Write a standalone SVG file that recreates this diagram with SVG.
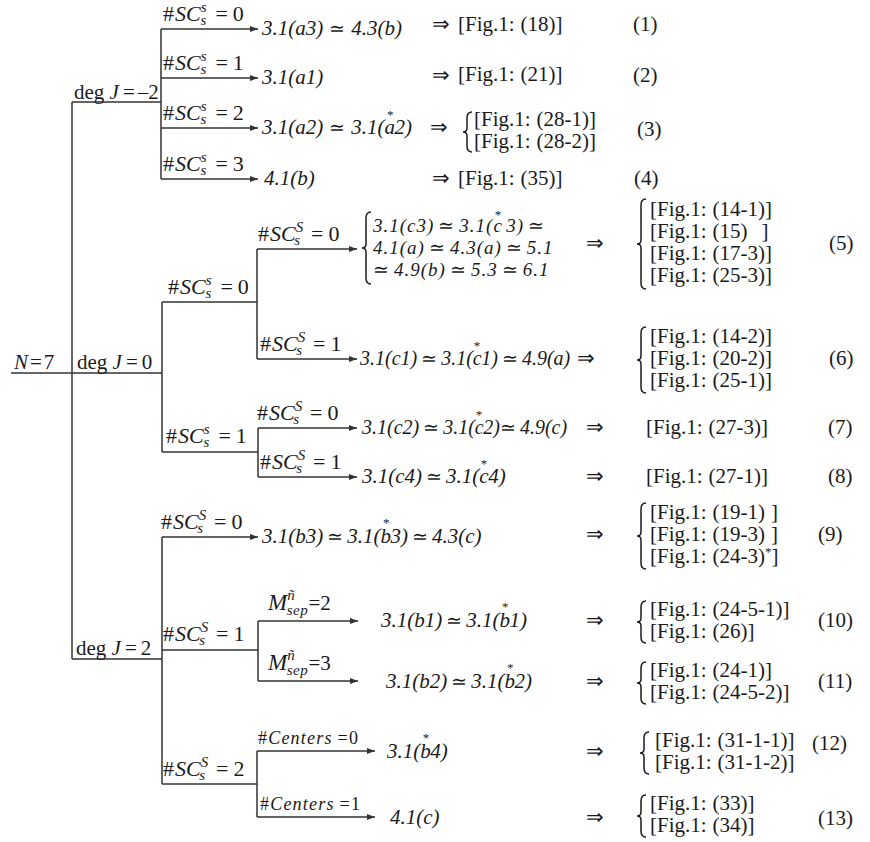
<svg xmlns="http://www.w3.org/2000/svg" width="870" height="842" viewBox="0 0 870 842">
<style>
.t{font-family:"Liberation Serif","Times New Roman",serif;font-size:21px;fill:#1a1a1a}
.lb{font-size:22px}
.i{font-style:italic}
.n{font-style:normal}
.q{font-style:normal;font-size:19px}
.s{font-size:15px}
.st{font-size:13px;font-style:normal}
.m5{font-size:19px;letter-spacing:1px}
.m20{font-size:20px}
.ce{font-size:18px;letter-spacing:1.2px}
.ln{stroke:#333;stroke-width:1.5;fill:none}
.ar{stroke:#333;stroke-width:1.5;fill:none;marker-end:url(#ah)}
.br{stroke:#1a1a1a;stroke-width:1.5;fill:none}
</style>
<defs>
<marker id="ah" markerWidth="9" markerHeight="7" refX="8" refY="3" orient="auto" markerUnits="userSpaceOnUse">
<path d="M0,0 L8,3 L0,6 z" fill="#333"/>
</marker>
</defs>
<rect width="870" height="842" fill="#fff"/>

<g id="connectors">
<path class="ln" d="M11,373 H162"/>
<path class="ln" d="M72,102 V659"/>
<path class="ln" d="M72,102 H161 M161,29 V179"/>
<path class="ar" d="M161,29 H258"/>
<path class="ar" d="M161,78 H258"/>
<path class="ar" d="M161,128 H258"/>
<path class="ar" d="M161,179 H258"/>
<path class="ln" d="M162,302 V452"/>
<path class="ln" d="M162,302 H257 M257,249 V359"/>
<path class="ar" d="M257,249 H357"/>
<path class="ar" d="M257,359 H357"/>
<path class="ln" d="M162,452 H258 M258,428 V477"/>
<path class="ar" d="M258,428 H357"/>
<path class="ar" d="M258,477 H357"/>
<path class="ln" d="M72,659 H162 M162,537 V784"/>
<path class="ar" d="M162,537 H258"/>
<path class="ln" d="M162,650 H258 M258,621 V681"/>
<path class="ar" d="M258,621 H358"/>
<path class="ar" d="M258,681 H358"/>
<path class="ln" d="M162,784 H257 M257,751 V817"/>
<path class="ar" d="M257,751 H375"/>
<path class="ar" d="M257,817 H375"/>
</g>

<g id="root"><text class="t" x="14" y="369"><tspan class="i">N</tspan><tspan dx="2">=</tspan><tspan dx="2">7</tspan></text></g>
<g id="degJm2"><text class="t" x="74" y="99">deg <tspan class="i">J</tspan><tspan dx="4">=</tspan><tspan dx="3">–2</tspan></text></g>
<g id="degJ0"><text class="t" x="77" y="369">deg <tspan class="i">J</tspan><tspan dx="4">=</tspan><tspan dx="4">0</tspan></text></g>
<g id="degJ2"><text class="t" x="76" y="655">deg <tspan class="i">J</tspan><tspan dx="4">=</tspan><tspan dx="4">2</tspan></text></g>

<g id="n1">
<text class="t lb" x="163" y="21">#<tspan class="i" dx="1">SC</tspan><tspan class="s i" dy="-9">s</tspan><tspan class="s i" dx="-6" dy="13">s</tspan><tspan dx="9" dy="-4">=</tspan><tspan dx="5">0</tspan></text>
<text class="t i" x="262" y="35">3.1(a3)<tspan class="q" dx="6">≃</tspan><tspan dx="6">4.3(b)</tspan></text>
<text class="t" x="432" y="31">⇒</text>
<text class="t" x="458" y="31">[Fig.1:<tspan dx="6">(18)]</tspan></text>
<text class="t" x="633" y="31">(1)</text>
</g>
<g id="n2">
<text class="t lb" x="163" y="70">#<tspan class="i" dx="1">SC</tspan><tspan class="s i" dy="-9">s</tspan><tspan class="s i" dx="-6" dy="13">s</tspan><tspan dx="9" dy="-4">=</tspan><tspan dx="5">1</tspan></text>
<text class="t i" x="262" y="84">3.1(a1)</text>
<text class="t" x="432" y="82">⇒</text>
<text class="t" x="458" y="81">[Fig.1:<tspan dx="6">(21)]</tspan></text>
<text class="t" x="633" y="82">(2)</text>
</g>
<g id="n3">
<text class="t lb" x="163" y="120">#<tspan class="i" dx="1">SC</tspan><tspan class="s i" dy="-9">s</tspan><tspan class="s i" dx="-6" dy="13">s</tspan><tspan dx="9" dy="-4">=</tspan><tspan dx="5">2</tspan></text>
<text class="t i" x="262" y="134">3.1(a2)<tspan class="q" dx="6">≃</tspan><tspan dx="6">3.1(a</tspan><tspan class="st" dx="-8" dy="-15">*</tspan><tspan dx="1" dy="15">2)</tspan></text>
<text class="t" x="430" y="134">⇒</text>
<path class="br" d="M472,112 C468,112 467,114 467,118 V128 C467,131 465,132 463,132 C465,132 467,133 467,136 V146 C467,150 468,152 472,152"/>
<text class="t" x="474" y="126">[Fig.1:<tspan dx="6">(28-1)]</tspan></text>
<text class="t" x="474" y="148">[Fig.1:<tspan dx="6">(28-2)]</tspan></text>
<text class="t" x="637" y="136">(3)</text>
</g>
<g id="n4">
<text class="t lb" x="163" y="171">#<tspan class="i" dx="1">SC</tspan><tspan class="s i" dy="-9">s</tspan><tspan class="s i" dx="-6" dy="13">s</tspan><tspan dx="9" dy="-4">=</tspan><tspan dx="5">3</tspan></text>
<text class="t i" x="264" y="185">4.1(b)</text>
<text class="t" x="432" y="185">⇒</text>
<text class="t" x="458" y="185">[Fig.1:<tspan dx="6">(35)]</tspan></text>
<text class="t" x="634" y="185">(4)</text>
</g>

<g id="sc0a"><text class="t lb" x="168" y="294">#<tspan class="i" dx="1">SC</tspan><tspan class="s i" dy="-9">s</tspan><tspan class="s i" dx="-6" dy="13">s</tspan><tspan dx="9" dy="-4">=</tspan><tspan dx="5">0</tspan></text></g>
<g id="sc1a"><text class="t lb" x="166" y="443">#<tspan class="i" dx="1">SC</tspan><tspan class="s i" dy="-9">s</tspan><tspan class="s i" dx="-6" dy="13">s</tspan><tspan dx="9" dy="-4">=</tspan><tspan dx="5">1</tspan></text></g>

<g id="n5">
<text class="t lb" x="258" y="241">#<tspan class="i" dx="1">SC</tspan><tspan class="s i" dy="-9">S</tspan><tspan class="s i" dx="-9" dy="13">s</tspan><tspan dx="11" dy="-4">=</tspan><tspan dx="5">0</tspan></text>
<path class="br" d="M371,212 C367,212 366,214 366,218 V244 C366,247 364,248 362,248 C364,248 366,249 366,252 V278 C366,282 367,284 371,284"/>
<text class="t i m5" x="373" y="232">3.1(c3)<tspan class="n" dx="4">≃</tspan><tspan dx="4">3.1(c</tspan><tspan class="st" dx="-8" dy="-13">*</tspan><tspan dx="4" dy="13">3)</tspan><tspan class="n" dx="4">≃</tspan></text>
<text class="t i m5" x="373" y="254">4.1(a)<tspan class="n" dx="4">≃</tspan><tspan dx="4">4.3(a)</tspan><tspan class="n" dx="4">≃</tspan><tspan dx="4">5.1</tspan></text>
<text class="t i m5" x="373" y="276"><tspan class="n">≃</tspan><tspan dx="4">4.9(b)</tspan><tspan class="n" dx="4">≃</tspan><tspan dx="4">5.3</tspan><tspan class="n" dx="4">≃</tspan><tspan dx="4">6.1</tspan></text>
<text class="t" x="586" y="250">⇒</text>
<path class="br" d="M646,199 C642,199 641,201 641,205 V240 C641,243 639,244 637,244 C639,244 641,245 641,248 V283 C641,287 642,289 646,289"/>
<text class="t" x="650" y="216">[Fig.1:<tspan dx="6">(14-1)]</tspan></text>
<text class="t" x="650" y="238">[Fig.1:<tspan dx="6">(15)</tspan><tspan dx="14">]</tspan></text>
<text class="t" x="650" y="260">[Fig.1:<tspan dx="6">(17-3)]</tspan></text>
<text class="t" x="650" y="282">[Fig.1:<tspan dx="6">(25-3)]</tspan></text>
<text class="t" x="829" y="250">(5)</text>
</g>

<g id="n6">
<text class="t lb" x="260" y="351">#<tspan class="i" dx="1">SC</tspan><tspan class="s i" dy="-9">S</tspan><tspan class="s i" dx="-9" dy="13">s</tspan><tspan dx="11" dy="-4">=</tspan><tspan dx="5">1</tspan></text>
<text class="t i m20" x="360" y="365">3.1(c1)<tspan class="q" dx="4">≃</tspan><tspan dx="4">3.1(c</tspan><tspan class="st" dx="-8" dy="-15">*</tspan><tspan dx="1" dy="15">1)</tspan><tspan class="q" dx="4">≃</tspan><tspan dx="4">4.9(a)</tspan></text>
<text class="t" x="577" y="365">⇒</text>
<path class="br" d="M646,327 C642,327 641,329 641,333 V356 C641,359 639,360 637,360 C639,360 641,361 641,364 V387 C641,391 642,393 646,393"/>
<text class="t" x="650" y="343">[Fig.1:<tspan dx="6">(14-2)]</tspan></text>
<text class="t" x="650" y="365">[Fig.1:<tspan dx="6">(20-2)]</tspan></text>
<text class="t" x="650" y="387">[Fig.1:<tspan dx="6">(25-1)]</tspan></text>
<text class="t" x="829" y="365">(6)</text>
</g>

<g id="n7">
<text class="t lb" x="257" y="420">#<tspan class="i" dx="1">SC</tspan><tspan class="s i" dy="-9">S</tspan><tspan class="s i" dx="-9" dy="13">s</tspan><tspan dx="11" dy="-4">=</tspan><tspan dx="5">0</tspan></text>
<text class="t i m20" x="362" y="434">3.1(c2)<tspan class="q" dx="4">≃</tspan><tspan dx="4">3.1(c</tspan><tspan class="st" dx="-8" dy="-15">*</tspan><tspan dx="1" dy="15">2)</tspan><tspan class="q">≃</tspan><tspan dx="4">4.9(c)</tspan></text>
<text class="t" x="586" y="434">⇒</text>
<text class="t" x="646" y="434">[Fig.1:<tspan dx="6">(27-3)]</tspan></text>
<text class="t" x="828" y="434">(7)</text>
</g>

<g id="n8">
<text class="t lb" x="260" y="469">#<tspan class="i" dx="1">SC</tspan><tspan class="s i" dy="-9">S</tspan><tspan class="s i" dx="-9" dy="13">s</tspan><tspan dx="11" dy="-4">=</tspan><tspan dx="5">1</tspan></text>
<text class="t i" x="362" y="483">3.1(c4)<tspan class="q" dx="4">≃</tspan><tspan dx="4">3.1(c</tspan><tspan class="st" dx="-8" dy="-15">*</tspan><tspan dx="1" dy="15">4)</tspan></text>
<text class="t" x="586" y="483">⇒</text>
<text class="t" x="646" y="483">[Fig.1:<tspan dx="6">(27-1)]</tspan></text>
<text class="t" x="828" y="483">(8)</text>
</g>

<g id="n9">
<text class="t lb" x="161" y="529">#<tspan class="i" dx="1">SC</tspan><tspan class="s i" dy="-9">S</tspan><tspan class="s i" dx="-9" dy="13">s</tspan><tspan dx="11" dy="-4">=</tspan><tspan dx="5">0</tspan></text>
<text class="t i" x="262" y="543">3.1(b3)<tspan class="q" dx="4">≃</tspan><tspan dx="4">3.1(b</tspan><tspan class="st" dx="-8" dy="-16">*</tspan><tspan dx="1" dy="16">3)</tspan><tspan class="q" dx="4">≃</tspan><tspan dx="4">4.3(c)</tspan></text>
<text class="t" x="586" y="541">⇒</text>
<path class="br" d="M646,503 C642,503 641,505 641,509 V532 C641,535 639,536 637,536 C639,536 641,537 641,540 V563 C641,567 642,569 646,569"/>
<text class="t" x="650" y="519">[Fig.1:<tspan dx="6">(19-1)</tspan><tspan dx="6">]</tspan></text>
<text class="t" x="650" y="541">[Fig.1:<tspan dx="6">(19-3)</tspan><tspan dx="6">]</tspan></text>
<text class="t" x="650" y="563">[Fig.1:<tspan dx="6">(24-3)</tspan><tspan class="st" dy="-7">*</tspan><tspan dy="7">]</tspan></text>
<text class="t" x="818" y="541">(9)</text>
</g>

<g id="sc1b"><text class="t lb" x="163" y="641">#<tspan class="i" dx="1">SC</tspan><tspan class="s i" dy="-9">S</tspan><tspan class="s i" dx="-9" dy="13">s</tspan><tspan dx="11" dy="-4">=</tspan><tspan dx="5">1</tspan></text></g>
<g id="sc2b"><text class="t lb" x="163" y="776">#<tspan class="i" dx="1">SC</tspan><tspan class="s i" dy="-9">S</tspan><tspan class="s i" dx="-9" dy="13">s</tspan><tspan dx="11" dy="-4">=</tspan><tspan dx="5">2</tspan></text></g>

<g id="n10">
<text class="t" x="268" y="610"><tspan class="i" style="font-size:23px">M</tspan><tspan class="s i" dy="-10">ñ</tspan><tspan class="s i" dx="-8" dy="15" style="letter-spacing:0.6px">sep</tspan><tspan dy="-5">=2</tspan></text>
<text class="t i" x="381" y="627">3.1(b1)<tspan class="q" dx="4">≃</tspan><tspan dx="4">3.1(b</tspan><tspan class="st" dx="-8" dy="-16">*</tspan><tspan dx="1" dy="16">1)</tspan></text>
<text class="t" x="586" y="627">⇒</text>
<path class="br" d="M646,601 C642,601 641,603 641,607 V618 C641,621 639,622 637,622 C639,622 641,623 641,626 V637 C641,641 642,643 646,643"/>
<text class="t" x="650" y="616">[Fig.1:<tspan dx="6">(24-5-1)]</tspan></text>
<text class="t" x="650" y="638">[Fig.1:<tspan dx="6">(26)]</tspan></text>
<text class="t" x="818" y="627">(10)</text>
</g>

<g id="n11">
<text class="t" x="268" y="670"><tspan class="i" style="font-size:23px">M</tspan><tspan class="s i" dy="-10">ñ</tspan><tspan class="s i" dx="-8" dy="15" style="letter-spacing:0.6px">sep</tspan><tspan dy="-5">=3</tspan></text>
<text class="t i" x="386" y="688">3.1(b2)<tspan class="q" dx="4">≃</tspan><tspan dx="4">3.1(b</tspan><tspan class="st" dx="-8" dy="-16">*</tspan><tspan dx="1" dy="16">2)</tspan></text>
<text class="t" x="586" y="688">⇒</text>
<path class="br" d="M646,662 C642,662 641,664 641,668 V679 C641,682 639,683 637,683 C639,683 641,684 641,687 V698 C641,702 642,704 646,704"/>
<text class="t" x="650" y="677">[Fig.1:<tspan dx="6">(24-1)]</tspan></text>
<text class="t" x="650" y="699">[Fig.1:<tspan dx="6">(24-5-2)]</tspan></text>
<text class="t" x="818" y="688">(11)</text>
</g>

<g id="n12">
<text class="t ce" x="258" y="744">#<tspan class="i">Centers</tspan><tspan dx="5">=0</tspan></text>
<text class="t i" x="387" y="758">3.1(b<tspan class="st" dx="-8" dy="-16">*</tspan><tspan dx="1" dy="16">4)</tspan></text>
<text class="t" x="586" y="758">⇒</text>
<path class="br" d="M649,732 C645,732 644,734 644,738 V749 C644,752 642,753 640,753 C642,753 644,754 644,757 V768 C644,772 645,774 649,774"/>
<text class="t" x="655" y="747">[Fig.1:<tspan dx="6">(31-1-1)]</tspan></text>
<text class="t" x="655" y="769">[Fig.1:<tspan dx="6">(31-1-2)]</tspan></text>
<text class="t" x="812" y="750">(12)</text>
</g>

<g id="n13">
<text class="t ce" x="260" y="810">#<tspan class="i">Centers</tspan><tspan dx="5">=1</tspan></text>
<text class="t i" x="390" y="824">4.1(c)</text>
<text class="t" x="586" y="824">⇒</text>
<path class="br" d="M646,795 C642,795 641,797 641,801 V812 C641,815 639,816 637,816 C639,816 641,817 641,820 V831 C641,835 642,837 646,837"/>
<text class="t" x="650" y="810">[Fig.1:<tspan dx="6">(33)]</tspan></text>
<text class="t" x="650" y="832">[Fig.1:<tspan dx="6">(34)]</tspan></text>
<text class="t" x="818" y="825">(13)</text>
</g>
</svg>
